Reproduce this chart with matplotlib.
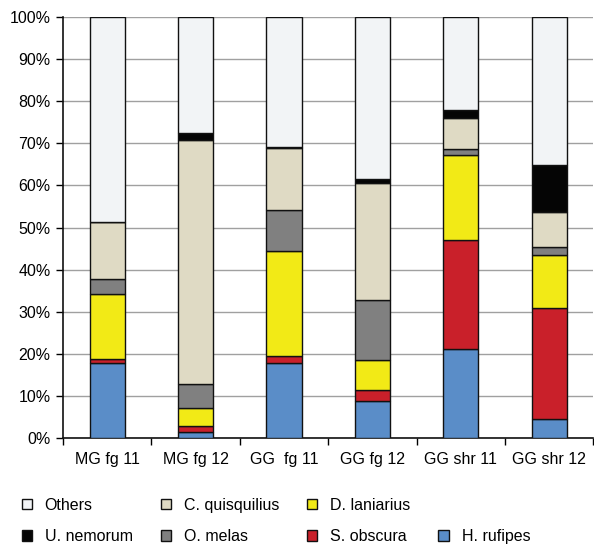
import numpy as np
import matplotlib.pyplot as plt
from matplotlib.patches import Patch

plt.rcParams['font.family'] = ['Liberation Sans', 'DejaVu Sans']

sites = ["MG fg 11", "MG fg 12", "GG  fg 11", "GG fg 12", "GG shr 11", "GG shr 12"]

# percent of catch per species, bottom to top
h_rufipes = [17.8, 1.4, 17.8, 8.7, 21.1, 4.5]
s_obscura = [1.0, 1.4, 1.7, 2.7, 25.9, 26.3]
d_laniarius = [15.5, 4.3, 24.8, 7.2, 20.2, 12.7]
o_melas = [3.4, 5.8, 9.8, 14.1, 1.4, 1.9]
c_quisquilius = [13.5, 58.0, 14.7, 27.8, 7.5, 8.4]
u_nemorum = [0.0, 1.5, 0.4, 1.0, 1.9, 11.1]
others = [48.8, 27.6, 30.8, 38.5, 22.0, 35.1]

layers = [
    ("H. rufipes", h_rufipes, "#5a8dc8"),
    ("S. obscura", s_obscura, "#c9202a"),
    ("D. laniarius", d_laniarius, "#f2ea16"),
    ("O. melas", o_melas, "#808080"),
    ("C. quisquilius", c_quisquilius, "#dfdac4"),
    ("U. nemorum", u_nemorum, "#050505"),
    ("Others", others, "#f2f4f6"),
]

fig = plt.figure(figsize=(5.94, 5.44), dpi=100)
ax = fig.add_axes([63 / 594, 1 - 438 / 544, 1 - 63 / 594 - 0.001, (438 - 17) / 544])

x = np.arange(len(sites))
bottom = np.zeros(len(sites))
for name, vals, col in layers:
    vals = np.array(vals)
    ax.bar(x, vals, 0.4, bottom=bottom, color=col, edgecolor="#111111",
           linewidth=1.0, label=name, zorder=3)
    bottom += vals

ax.set_xlim(-0.5, len(sites) - 0.5)
ax.set_ylim(0, 100)
ax.set_yticks(np.arange(0, 101, 10))
ax.set_yticklabels([f"{v}%" for v in range(0, 101, 10)], fontsize=11.5)
ax.yaxis.grid(True, color="#a0a0a0", linewidth=1.0, zorder=0)
ax.set_xticks(x)
ax.set_xticklabels(sites, fontsize=11.5)
ax.set_xticks(np.arange(-0.5, len(sites)), minor=True)
ax.tick_params(axis="x", which="major", length=0, pad=10)
ax.tick_params(axis="x", which="minor", length=5, width=1, direction="out")
ax.tick_params(axis="y", length=5, width=1, direction="out", pad=4)
for s in ["top", "right"]:
    ax.spines[s].set_visible(False)
for s in ["left", "bottom"]:
    ax.spines[s].set_linewidth(1.2)
    ax.spines[s].set_color("#111111")

lookup = {n: c for n, v, c in layers}
order = ["Others", "U. nemorum", "C. quisquilius", "O. melas",
         "D. laniarius", "S. obscura", None, "H. rufipes"]
handles = []
labels = []
for n in order:
    if n is None:
        handles.append(Patch(visible=False))
        labels.append("")
    else:
        handles.append(Patch(facecolor=lookup[n], edgecolor="#111111", linewidth=1.0))
        labels.append(n)
fig.legend(handles, labels, ncol=4, loc="lower left", bbox_to_anchor=(0.012, -0.027),
           frameon=False, fontsize=11.5, handlelength=0.65, handleheight=0.65,
           handletextpad=0.8, columnspacing=1.75, labelspacing=1.05)

fig.savefig("out.png", dpi=100)
